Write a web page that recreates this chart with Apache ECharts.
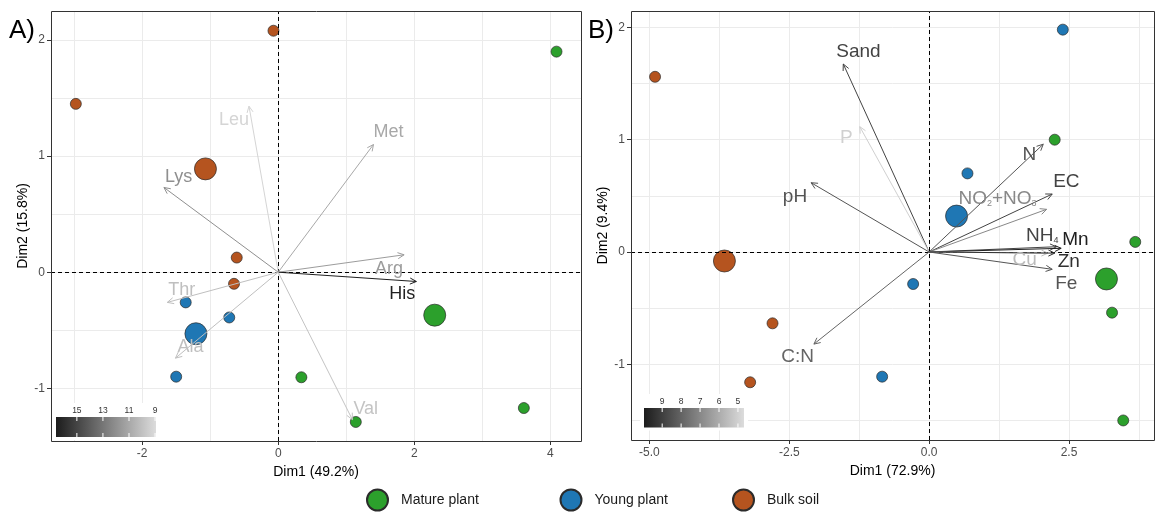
<!DOCTYPE html>
<html><head><meta charset="utf-8">
<script src="https://cdn.jsdelivr.net/npm/echarts@6/dist/echarts.min.js"></script>
<style>html,body{margin:0;padding:0;background:#fff}#c{width:1156px;height:514px}</style>
</head><body><div id="c"></div>
<script>
// ---------------- DATA ----------------
const groups = ['Mature plant', 'Young plant', 'Bulk soil'];

// Panel A (amino acids)
const aMatureX = [4.09, 0.34, 3.61, 1.14];
const aMatureY = [1.90, -0.905, -1.17, -1.29];
const aYoungX = [-1.36, -0.72, -1.50];
const aYoungY = [-0.26, -0.39, -0.90];
const aBulkX = [-0.07, -2.975, -0.61, -0.65];
const aBulkY = [2.08, 1.45, 0.126, -0.10];
const aMeanX = [2.30, -1.21, -1.07];   // Mature, Young, Bulk
const aMeanY = [-0.37, -0.53, 0.89];
const aVars = ['Leu', 'Met', 'Lys', 'Arg', 'His', 'Thr', 'Ala', 'Val'];
const aVarX = [-0.43, 1.40, -1.68, 1.85, 2.03, -1.63, -1.51, 1.09];
const aVarY = [1.43, 1.10, 0.73, 0.15, -0.08, -0.26, -0.74, -1.27];
const aContrib = [9.2, 11.0, 12.0, 11.5, 16.5, 10.1, 10.1, 9.9];
const aXTicks = [-2, 0, 2, 4];
const aYTicks = [-1, 0, 1, 2];
const aBarTicks = [15, 13, 11, 9];
const aBarRange = [8.93, 16.6];

// Panel B (soil properties)
const bMatureX = [2.245, 3.685, 3.27, 3.47];
const bMatureY = [1.00, 0.09, -0.54, -1.50];
const bYoungX = [2.39, 0.685, -0.286, -0.84];
const bYoungY = [1.98, 0.70, -0.285, -1.11];
const bBulkX = [-4.90, -2.80, -3.20];
const bBulkY = [1.56, -0.635, -1.16];
const bMeanX = [3.17, 0.49, -3.66];
const bMeanY = [-0.24, 0.32, -0.08];
const bVars = ['Sand', 'P', 'pH', 'C:N', 'N', 'EC', 'NO2+NO3', 'NH4', 'Mn', 'Cu', 'Zn', 'Fe'];
const bVarX = [-1.535, -1.24, -2.11, -2.06, 2.04, 2.20, 2.10, 2.275, 2.36, 2.12, 2.245, 2.20];
const bVarY = [1.674, 1.116, 0.617, -0.82, 0.96, 0.516, 0.38, 0.047, 0.033, -0.01, -0.01, -0.154];
const bContrib = [8.9, 5.0, 8.43, 7.96, 8.43, 8.9, 7.0, 8.9, 9.85, 5.6, 9.38, 8.43];
const bXTicks = [-5.0, -2.5, 0.0, 2.5];
const bYTicks = [-1, 0, 1, 2];
const bBarTicks = [9, 8, 7, 6, 5];
const bBarRange = [4.68, 9.96];

// ---------------- STYLE / LAYOUT ----------------
const FONT = '"Liberation Sans", Arial, sans-serif';
const COLORS = ['#2ca02c', '#1f77b4', '#b5541f'];
const DARK = 28, LIGHT = 220;
const GA = {left: 51, top: 11, width: 530, height: 430};
const GB = {left: 631, top: 11, width: 523, height: 429};
const aExt = {x: [-3.34, 4.45], y: [-1.454, 2.25]};
const bExt = {x: [-5.33, 4.02], y: [-1.674, 2.146]};

const aLabelCfg = {
  Leu: {align: 'right', dx: 0, dy: 14}, Met: {align: 'left', dx: 0, dy: -12},
  Lys: {align: 'left', dx: 1, dy: -10}, Arg: {align: 'right', dx: -1, dy: 14},
  His: {align: 'right', dx: -1, dy: 13}, Thr: {align: 'left', dx: 1, dy: -12},
  Ala: {align: 'left', dx: 2, dy: -11}, Val: {align: 'left', dx: 1, dy: -11}
};
const bLabelCfg = {
  Sand: {align: 'left', dx: -7, dy: -12}, P: {align: 'right', dx: -7, dy: 11},
  pH: {align: 'right', dx: -4, dy: 14}, 'C:N': {align: 'right', dx: 0, dy: 13},
  N: {align: 'right', dx: -7, dy: 11}, EC: {align: 'left', dx: 1, dy: -12},
  'NO2+NO3': {align: 'right', dx: -10, dy: -11, text: 'NO{s|2}+NO{s|3}'},
  NH4: {align: 'right', dx: 2, dy: -11, text: 'NH{s|4}'},
  Mn: {align: 'left', dx: 1, dy: -9}, Cu: {align: 'right', dx: -11, dy: 7},
  Zn: {align: 'left', dx: 3, dy: 9}, Fe: {align: 'left', dx: 3, dy: 14}
};

function grayFor(v, range) {
  let t = (range[1] - v) / (range[1] - range[0]);
  t = Math.max(0, Math.min(1, t));
  const g = Math.round(DARK + t * (LIGHT - DARK));
  return 'rgb(' + g + ',' + g + ',' + g + ')';
}

function majorX(gi, ext, ticks, fmt, name) {
  return {
    type: 'value', gridIndex: gi, min: ext[0], max: ext[1],
    minInterval: ticks[1] - ticks[0], maxInterval: ticks[1] - ticks[0],
    axisLine: {show: false, onZero: false},
    axisTick: {show: true, length: 4, customValues: ticks, lineStyle: {color: '#333', width: 1}},
    axisLabel: {color: '#4d4d4d', fontSize: 12, fontFamily: FONT, margin: 7, customValues: ticks,
      formatter: v => ticks.some(t => Math.abs(t - v) < 1e-6) ? fmt(v) : ''},
    splitLine: {show: false},
    name: name, nameLocation: 'middle', nameGap: 19,
    nameTextStyle: {color: '#000', fontSize: 14, fontFamily: FONT}
  };
}
function majorY(gi, ext, ticks, name, gap) {
  return {
    type: 'value', gridIndex: gi, min: ext[0], max: ext[1],
    minInterval: ticks[1] - ticks[0], maxInterval: ticks[1] - ticks[0],
    axisLine: {show: false, onZero: false},
    axisTick: {show: true, length: 4, customValues: ticks, lineStyle: {color: '#333', width: 1}},
    axisLabel: {color: '#4d4d4d', fontSize: 12, fontFamily: FONT, margin: 6, customValues: ticks,
      formatter: v => ticks.some(t => Math.abs(t - v) < 1e-6) ? String(Math.round(v)) : ''},
    splitLine: {show: false},
    name: name, nameLocation: 'middle', nameGap: gap,
    nameTextStyle: {color: '#000', fontSize: 14, fontFamily: FONT}
  };
}
function minorAxis(gi, ext, step, pos) {
  return {
    type: 'value', gridIndex: gi, min: ext[0], max: ext[1], position: pos,
    minInterval: step, maxInterval: step,
    axisLine: {show: false, onZero: false}, axisTick: {show: false}, axisLabel: {show: false},
    splitLine: {show: true, showMinLine: false, showMaxLine: false, lineStyle: {color: '#ebebeb', width: 1}}
  };
}

function pts(name, xs, ys, size, ax, color) {
  return {
    type: 'scatter', name: name, xAxisIndex: ax, yAxisIndex: ax,
    data: xs.map((x, i) => [x, ys[i]]), symbolSize: size, z: 2,
    itemStyle: {color: color, borderColor: '#2b2b2b', borderWidth: 0.7, opacity: 1}
  };
}
function zeroLines(ax) {
  return {
    type: 'scatter', name: 'zero' + ax, xAxisIndex: ax, yAxisIndex: ax, data: [], z: 1,
    markLine: {silent: true, symbol: ['none', 'none'], label: {show: false},
      lineStyle: {type: [4, 3], color: '#000', width: 1}, data: [{xAxis: 0}, {yAxis: 0}]}
  };
}
function arrows(ax, names, xs, ys, contrib, range, cfgs, fs) {
  return {
    type: 'custom', xAxisIndex: ax, yAxisIndex: ax, z: 5, silent: true, clip: false,
    data: names.map((n, i) => [xs[i], ys[i], contrib[i], i]),
    encode: {x: 0, y: 1},
    renderItem: function (params, api) {
      const i = api.value(3);
      const o = api.coord([0, 0]);
      const p = api.coord([api.value(0), api.value(1)]);
      const col = grayFor(api.value(2), range);
      const ang = Math.atan2(p[1] - o[1], p[0] - o[0]);
      const L = 7, A = Math.PI / 7;
      const h1 = [p[0] - L * Math.cos(ang - A), p[1] - L * Math.sin(ang - A)];
      const h2 = [p[0] - L * Math.cos(ang + A), p[1] - L * Math.sin(ang + A)];
      const cfg = cfgs[names[i]];
      return {type: 'group', children: [
        {type: 'line', shape: {x1: o[0], y1: o[1], x2: p[0], y2: p[1]}, style: {stroke: col, lineWidth: 1}},
        {type: 'polyline', shape: {points: [h1, p, h2]}, style: {stroke: col, lineWidth: 1, fill: null}},
        {type: 'text', x: p[0] + cfg.dx, y: p[1] + cfg.dy, z2: 10,
          style: {text: cfg.text || names[i], fill: col, fontSize: fs, fontFamily: FONT,
            align: cfg.align, verticalAlign: 'middle',
            rich: {s: {fontSize: 9, fontFamily: FONT, fill: col, verticalAlign: 'bottom'}}}}
      ]};
    }
  };
}

function colorbar(x0, y0, w, h, range, ticks) {
  const els = [];
  els.push({type: 'rect', z: 50, shape: {x: x0 - 4, y: y0 - 14, width: w + 8, height: h + 17}, style: {fill: '#fff'}});
  els.push({type: 'rect', z: 51, shape: {x: x0, y: y0, width: w, height: h},
    style: {fill: new echarts.graphic.LinearGradient(0, 0, 1, 0, [
      {offset: 0, color: 'rgb(' + DARK + ',' + DARK + ',' + DARK + ')'},
      {offset: 1, color: 'rgb(' + LIGHT + ',' + LIGHT + ',' + LIGHT + ')'}])}});
  ticks.forEach(t => {
    const x = x0 + (range[1] - t) / (range[1] - range[0]) * w;
    els.push({type: 'line', z: 52, shape: {x1: x, y1: y0, x2: x, y2: y0 + 4}, style: {stroke: '#fff', lineWidth: 1}});
    els.push({type: 'line', z: 52, shape: {x1: x, y1: y0 + h - 4, x2: x, y2: y0 + h}, style: {stroke: '#fff', lineWidth: 1}});
    els.push({type: 'text', z: 52, x: x, y: y0 - 6,
      style: {text: String(t), fill: '#333', fontSize: 8.5, fontFamily: FONT, align: 'center', verticalAlign: 'middle'}});
  });
  return els;
}

const chart = echarts.init(document.getElementById('c'), null, {renderer: 'canvas'});
const option = {
  animation: false,
  backgroundColor: '#fff',
  grid: [GA, GB],
  xAxis: [
    majorX(0, aExt.x, aXTicks, v => String(Math.round(v)), 'Dim1 (49.2%)'),
    minorAxis(0, aExt.x, 1, 'top'),
    majorX(1, bExt.x, bXTicks, v => v.toFixed(1), 'Dim1 (72.9%)'),
    minorAxis(1, bExt.x, 1.25, 'top')
  ],
  yAxis: [
    majorY(0, aExt.y, aYTicks, 'Dim2 (15.8%)', 19),
    minorAxis(0, aExt.y, 0.5, 'right'),
    majorY(1, bExt.y, bYTicks, 'Dim2 (9.4%)', 21),
    minorAxis(1, bExt.y, 0.5, 'right')
  ],
  legend: groups.map((g, i) => ({
    data: [g], left: [366, 559.5, 732][i], top: 488.5, padding: 0, icon: 'circle',
    itemWidth: 21, itemHeight: 21, selectedMode: false,
    textStyle: {fontSize: 14, color: '#1a1a1a', fontFamily: FONT, padding: [0, 0, 0, 8]}
  })),
  series: [
    zeroLines(0), zeroLines(2),
    pts(groups[0], aMatureX, aMatureY, 11, 0, COLORS[0]),
    pts(groups[1], aYoungX, aYoungY, 11, 0, COLORS[1]),
    pts(groups[2], aBulkX, aBulkY, 11, 0, COLORS[2]),
    pts(groups[0], [aMeanX[0]], [aMeanY[0]], 22, 0, COLORS[0]),
    pts(groups[1], [aMeanX[1]], [aMeanY[1]], 22, 0, COLORS[1]),
    pts(groups[2], [aMeanX[2]], [aMeanY[2]], 22, 0, COLORS[2]),
    pts(groups[0], bMatureX, bMatureY, 11, 2, COLORS[0]),
    pts(groups[1], bYoungX, bYoungY, 11, 2, COLORS[1]),
    pts(groups[2], bBulkX, bBulkY, 11, 2, COLORS[2]),
    pts(groups[0], [bMeanX[0]], [bMeanY[0]], 22, 2, COLORS[0]),
    pts(groups[1], [bMeanX[1]], [bMeanY[1]], 22, 2, COLORS[1]),
    pts(groups[2], [bMeanX[2]], [bMeanY[2]], 22, 2, COLORS[2]),
    arrows(0, aVars, aVarX, aVarY, aContrib, aBarRange, aLabelCfg, 18),
    arrows(2, bVars, bVarX, bVarY, bContrib, bBarRange, bLabelCfg, 19)
  ],
  graphic: {elements: [
    {type: 'text', x: 22, y: 31, z: 60, style: {text: 'A)', fill: '#000', fontSize: 26, fontFamily: FONT, align: 'center', verticalAlign: 'middle'}},
    {type: 'text', x: 601, y: 31, z: 60, style: {text: 'B)', fill: '#000', fontSize: 26, fontFamily: FONT, align: 'center', verticalAlign: 'middle'}},
    {type: 'rect', z: 100, shape: {x: GA.left + 0.5, y: GA.top + 0.5, width: GA.width, height: GA.height}, style: {fill: null, stroke: '#333', lineWidth: 1}},
    {type: 'rect', z: 100, shape: {x: GB.left + 0.5, y: GB.top + 0.5, width: GB.width, height: GB.height}, style: {fill: null, stroke: '#333', lineWidth: 1}}
  ].concat(colorbar(56, 417, 100, 20, aBarRange, aBarTicks))
   .concat(colorbar(644, 408, 100, 19.5, bBarRange, bBarTicks))}
};
chart.setOption(option);
</script>
</body></html>
